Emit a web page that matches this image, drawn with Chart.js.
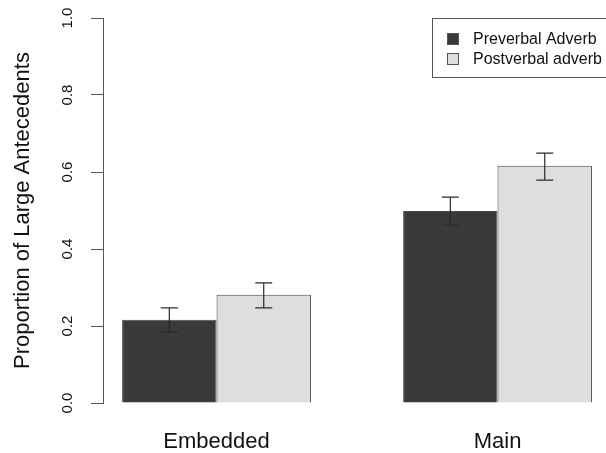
<!DOCTYPE html>
<html>
<head>
<meta charset="utf-8">
<script src="https://cdn.jsdelivr.net/npm/chart.js@4/dist/chart.umd.min.js"></script>
<style>
  body { margin: 0; background: #fff; }
  #wrap { width: 606px; height: 453px; }
</style>
</head>
<body>
<div id="wrap"><canvas id="barChart" width="606" height="453"></canvas></div>
<script>
const categories = ['Embedded', 'Main'];
const seriesNames = ['Preverbal Adverb', 'Postverbal adverb'];
const preverbal = [0.216, 0.499];
const postverbal = [0.281, 0.616];
const preverbalLow = [0.184, 0.462];
const preverbalHigh = [0.247, 0.535];
const postverbalLow = [0.247, 0.579];
const postverbalHigh = [0.312, 0.649];
const yTicks = [0, 0.2, 0.4, 0.6, 0.8, 1.0];

const errLow = [preverbalLow, postverbalLow];
const errHigh = [preverbalHigh, postverbalHigh];
const fillColors = ['#3a3a3a', '#dedede'];

const toPoints = vals => categories.map((c, i) => ({ x: i + 1, y: vals[i] }));

// error bars drawn from the y scale
const errorBars = {
  id: 'errorBars',
  afterDatasetsDraw(chart) {
    const ctx = chart.ctx;
    const y = chart.scales.y;
    ctx.save();
    ctx.strokeStyle = '#2a2a2a';
    ctx.lineWidth = 1.2;
    chart.data.datasets.forEach((ds, d) => {
      chart.getDatasetMeta(d).data.forEach((bar, i) => {
        const top = y.getPixelForValue(errHigh[d][i]);
        const bot = y.getPixelForValue(errLow[d][i]);
        const cap = 8.5;
        ctx.beginPath();
        ctx.moveTo(bar.x, top); ctx.lineTo(bar.x, bot);
        ctx.moveTo(bar.x - cap, top); ctx.lineTo(bar.x + cap, top);
        ctx.moveTo(bar.x - cap, bot); ctx.lineTo(bar.x + cap, bot);
        ctx.stroke();
      });
    });
    ctx.restore();
  }
};

// R-style boxed legend in the top right corner
const boxLegend = {
  id: 'boxLegend',
  afterDraw(chart) {
    const ctx = chart.ctx;
    const left = 432, top = 18, bottom = 77;
    ctx.save();
    ctx.fillStyle = '#fff';
    ctx.fillRect(left, top, chart.width - left + 2, bottom - top);
    ctx.strokeStyle = '#555';
    ctx.lineWidth = 1;
    ctx.strokeRect(left + 0.5, top + 0.5, chart.width - left + 4, bottom - top);
    ctx.font = '16px "Liberation Sans", Arial, sans-serif';
    ctx.textBaseline = 'middle';
    seriesNames.forEach((name, i) => {
      const cy = 39 + i * 20;
      ctx.fillStyle = fillColors[i];
      ctx.fillRect(447, cy - 6, 12, 12);
      ctx.strokeStyle = '#555';
      ctx.strokeRect(447.5, cy - 5.5, 11, 11);
      ctx.fillStyle = '#111';
      ctx.fillText(name, 473, cy + 1);
    });
    ctx.restore();
  }
};

new Chart(document.getElementById('barChart'), {
  type: 'bar',
  data: {
    datasets: seriesNames.map((name, d) => ({
      label: name,
      data: toPoints(d === 0 ? preverbal : postverbal),
      backgroundColor: fillColors[d],
      borderColor: '#4a4a4a',
      borderWidth: 1,
      categoryPercentage: 0.672,
      barPercentage: 1,
    })),
  },
  options: {
    responsive: false,
    animation: false,
    layout: { padding: { top: 18, right: 0, bottom: 0, left: 0 } },
    plugins: {
      legend: { display: false },
      tooltip: { enabled: false },
    },
    scales: {
      x: {
        type: 'linear',
        offset: false,
        min: 0.596,
        max: 2.386,
        grid: { display: false, drawTicks: false, offset: false },
        border: { display: false },
        afterBuildTicks: s => { s.ticks = categories.map((c, i) => ({ value: i + 1 })); },
        afterFit: s => { s.height = 50; s.paddingLeft = 0; s.paddingRight = 0; },
        ticks: {
          padding: 26,
          color: '#111',
          font: { family: '"Liberation Sans", Arial, sans-serif', size: 22 },
          callback: v => categories[v - 1],
        },
      },
      y: {
        min: 0,
        max: 1,
        afterBuildTicks: s => { s.ticks = yTicks.map(v => ({ value: v })); },
        afterFit: s => { s.width = 103; s.paddingTop = 0; s.paddingBottom = 0; },
        grid: { drawOnChartArea: false, drawTicks: true, tickLength: 12, color: '#555' },
        border: { display: true, color: '#555' },
        ticks: {
          minRotation: 90,
          maxRotation: 90,
          crossAlign: 'center',
          padding: 13,
          color: '#111',
          font: { family: '"Liberation Sans", Arial, sans-serif', size: 15 },
          callback: v => v.toFixed(1),
        },
        title: {
          display: true,
          text: 'Proportion of Large Antecedents',
          color: '#111',
          padding: { top: 10, bottom: 0 },
          font: { family: '"Liberation Sans", Arial, sans-serif', size: 22 },
        },
      },
    },
  },
  plugins: [errorBars, boxLegend],
});
</script>
</body>
</html>
